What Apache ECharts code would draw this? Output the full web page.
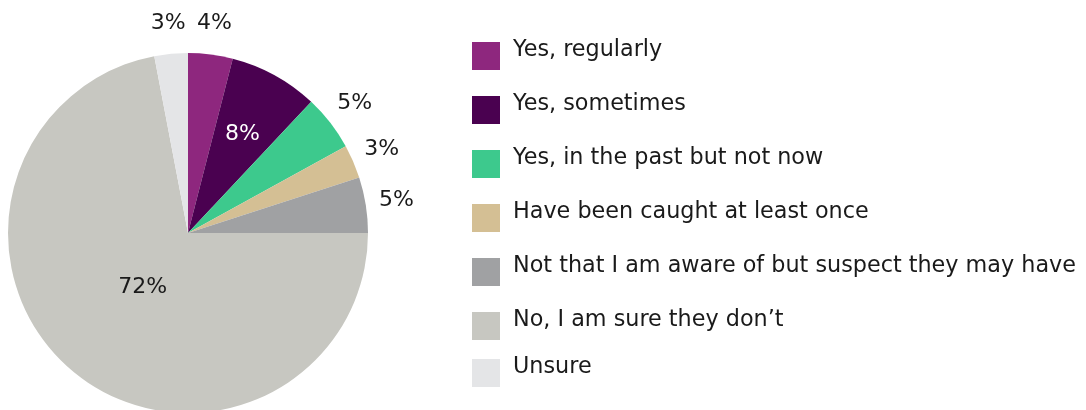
<!DOCTYPE html>
<html>
<head>
<meta charset="utf-8">
<script src="https://cdn.jsdelivr.net/npm/echarts@6/dist/echarts.min.js"></script>
<style>
  html, body { margin: 0; padding: 0; background: #ffffff; }
  #chart { width: 1086px; height: 410px; }
</style>
</head>
<body>
<div id="chart"></div>
<script>
// Survey answers and their share of respondents (%)
const categories = [
  'Yes, regularly',
  'Yes, sometimes',
  'Yes, in the past but not now',
  'Have been caught at least once',
  'Not that I am aware of but suspect they may have',
  'No, I am sure they don\u2019t',
  'Unsure'
];
const shares = [4, 8, 5, 3, 5, 72, 3];

// Slice colours, in category order
const palette = ['#8e277e', '#4a0150', '#3dc98d', '#d4bf94', '#a0a1a3', '#c7c7c1', '#e4e5e7'];

// Which answers get their percentage drawn on which label ring
const outerRing = ['Yes, regularly', 'Yes, in the past but not now', 'Have been caught at least once',
  'Not that I am aware of but suspect they may have', 'Unsure'];
const midRing = ['Yes, sometimes'];
const innerRing = ['No, I am sure they don\u2019t'];

const FONT = '"DejaVu Sans"';
const CENTER = [188, 233];

// Legend swatch: a 28px square sitting low in a 28x40 box, so the label
// (centred on the box) reads slightly above the swatch's middle
const SWATCH = 'path://M0,0L0.001,0ZM0,12L28,12L28,40L0,40Z';

const sliceData = categories.map((name, i) => ({ name, value: shares[i] }));

// A transparent ring whose only job is to place value labels at a given radius
function labelRing(radius, names, colour) {
  return {
    type: 'pie',
    center: CENTER,
    radius: radius,
    startAngle: 90,
    clockwise: true,
    silent: true,
    avoidLabelOverlap: false,
    emphasis: { disabled: true },
    itemStyle: { color: 'rgba(0,0,0,0)', borderWidth: 0 },
    label: {
      show: true,
      position: 'inside',
      fontFamily: FONT,
      fontSize: 22,
      color: colour,
      formatter: p => names.includes(p.name) ? p.value + '%' : ''
    },
    labelLine: { show: false },
    data: sliceData
  };
}

const legendBase = {
  orient: 'vertical',
  left: 472,
  padding: 0,
  itemWidth: 28,
  itemHeight: 40,
  itemGap: 14,
  icon: SWATCH,
  selectedMode: false,
  textStyle: { fontFamily: FONT, fontSize: 22.3, color: '#1a1a1a', padding: [0, 0, 0, 8] }
};

const chart = echarts.init(document.getElementById('chart'), null, { renderer: 'canvas' });
chart.setOption({
  animation: false,
  color: palette,
  legend: [
    Object.assign({}, legendBase, { top: 30, data: categories.slice(0, 6) }),
    Object.assign({}, legendBase, { top: 347, data: categories.slice(6) })
  ],
  series: [
    {
      type: 'pie',
      center: CENTER,
      radius: [0, 180],
      startAngle: 90,
      clockwise: true,
      avoidLabelOverlap: false,
      emphasis: { disabled: true },
      itemStyle: { borderWidth: 0 },
      label: { show: false },
      labelLine: { show: false },
      data: sliceData
    },
    labelRing([196, 220], outerRing, '#1a1a1a'),
    labelRing([98, 122], midRing, '#ffffff'),
    labelRing([56, 80], innerRing, '#1a1a1a')
  ]
});
</script>
</body>
</html>
